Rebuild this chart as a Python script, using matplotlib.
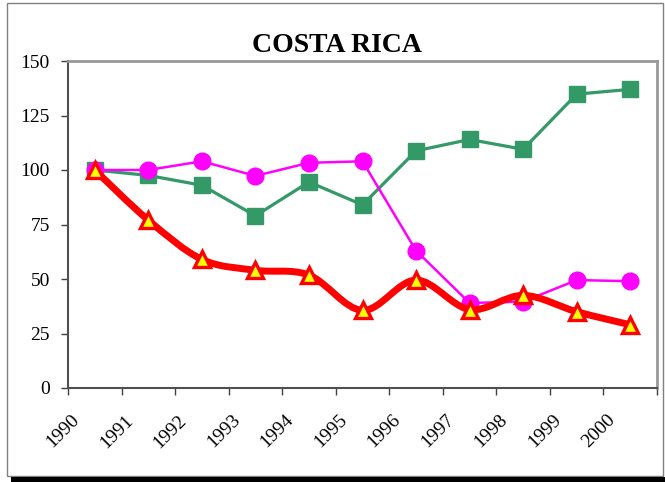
import numpy as np
import matplotlib.pyplot as plt
import matplotlib.transforms as mtransforms
from matplotlib.path import Path
from matplotlib.patches import PathPatch, Rectangle

years = ['1990', '1991', '1992', '1993', '1994', '1995', '1996', '1997', '1998', '1999', '2000']
green_vals = [100, 97.5, 93, 79, 94.5, 84, 108.8, 114, 109.5, 134.8, 137]
magenta_vals = [100, 100, 104, 97.3, 103.3, 104, 63, 39, 39.6, 49.5, 49]
red_vals = [100, 77, 59, 54, 51.8, 35.6, 49.5, 36, 42.5, 35, 29]

plt.rcParams['font.family'] = ['Liberation Serif', 'DejaVu Serif']

fig = plt.figure(figsize=(6.65, 4.82), dpi=100)
ax = fig.add_axes([68 / 665, 1 - 388 / 482, (657 - 68) / 665, (388 - 61) / 482])

x = np.arange(len(years)) + 0.5

ax.plot(x, green_vals, color='#339966', lw=2.3, marker='s', ms=11, zorder=3)
ax.plot(x, magenta_vals, color='#FF00FF', lw=1.8, marker='o', ms=12, zorder=4)

# smoothed red line (bezier through the points, like excel "smoothed line")
pts = np.column_stack([x, red_vals])
verts = [pts[0]]
codes = [Path.MOVETO]
for i in range(len(pts) - 1):
    p0 = pts[i - 1] if i > 0 else pts[i]
    p1 = pts[i]
    p2 = pts[i + 1]
    p3 = pts[i + 2] if i + 2 < len(pts) else pts[i + 1]
    c1 = p1 + (p2 - p0) / 6
    c2 = p2 - (p3 - p1) / 6
    verts += [c1, c2, p2]
    codes += [Path.CURVE4] * 3
ax.add_patch(PathPatch(Path(verts, codes), fill=False, edgecolor='#FF0000', lw=5,
                       capstyle='round', joinstyle='round', zorder=5))
ax.plot(x, red_vals, ls='none', marker='^', ms=11, mfc='#FFFF00', mec='#FF0000',
        mew=2.4, zorder=6)

ax.set_xlim(0, len(years))
ax.set_ylim(0, 150)
ax.set_yticks(np.arange(0, 151, 25))
ax.set_xticks(np.arange(0, len(years) + 1))
ax.set_xticklabels([])
ax.set_xticks(x, minor=True)
ax.set_xticklabels(years, minor=True, rotation=45, ha='right')
ax.tick_params(axis='x', which='major', direction='out', length=5, width=1, color='#404040')
ax.tick_params(axis='x', which='minor', length=0, pad=17, labelsize=14)
ax.tick_params(axis='y', direction='out', length=5, width=1, color='#404040', pad=8, labelsize=14)

shift = mtransforms.ScaledTranslation(-12 / 100, 0, fig.dpi_scale_trans)
for lab in ax.get_xticklabels(minor=True):
    lab.set_transform(lab.get_transform() + shift)

for s in ['left', 'bottom']:
    ax.spines[s].set_color('#505050')
    ax.spines[s].set_linewidth(1.5)
for s in ['top', 'right']:
    ax.spines[s].set_color('#999999')
    ax.spines[s].set_linewidth(2)

fig.text(337 / 665, 1 - 45 / 482, 'COSTA RICA', ha='center', va='center',
         fontsize=20, fontweight='bold')

# chart border and shadow
fig.add_artist(Rectangle((7 / 665, 1 - 476 / 482), (663 - 7) / 665, (476 - 3) / 482,
                         transform=fig.transFigure, fill=False, ec='#808080', lw=1))
fig.add_artist(Rectangle((11 / 665, 0), 1, 5 / 482, transform=fig.transFigure,
                         fc='black', ec='none'))

fig.savefig('out.png', dpi=100)
